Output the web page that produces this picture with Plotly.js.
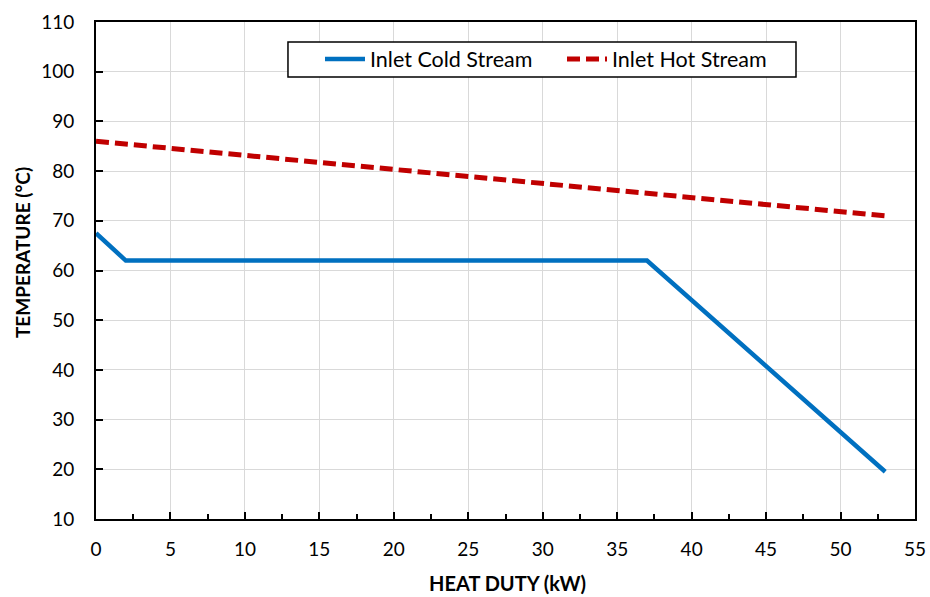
<!DOCTYPE html>
<html>
<head>
<meta charset="utf-8">
<script src="https://cdn.plot.ly/plotly-3.0.1.min.js"></script>
<style>html,body{margin:0;padding:0;background:#fff}#chart{width:930px;height:597px}</style>
</head>
<body>
<div id="chart"></div>
<script>
// Heat duty (kW) vs temperature (°C) profiles
const coldDuty = [0, 2, 37, 53];
const coldTemp = [67.5, 62, 62, 19.5];
const hotDuty = [0, 53];
const hotTemp = [86, 71];
const xTicks = [0, 5, 10, 15, 20, 25, 30, 35, 40, 45, 50, 55];
const yTicks = [10, 20, 30, 40, 50, 60, 70, 80, 90, 100, 110];
const xTitle = 'HEAT DUTY (kW)';
const yTitle = 'TEMPERATURE (°C)';

const font = "Lato, 'Open Sans', sans-serif";

const traces = [
  {x: coldDuty, y: coldTemp, mode: 'lines', name: 'Inlet Cold Stream',
   line: {color: '#0070C0', width: 4.5}},
  {x: hotDuty, y: hotTemp, mode: 'lines', name: 'Inlet Hot Stream',
   line: {color: '#C00000', width: 5, dash: '13px,6px'}}
];

const axisCommon = {
  showline: true, linecolor: '#000', linewidth: 2, mirror: true,
  ticks: 'inside', ticklen: 7, tickwidth: 2, tickcolor: '#000',
  showgrid: true, gridcolor: '#d9d9d9', gridwidth: 1,
  zeroline: false, tickfont: {family: font, size: 19, color: '#000'}
};

const layout = {
  width: 930, height: 597,
  margin: {l: 96, r: 15, t: 22, b: 78},
  paper_bgcolor: '#fff', plot_bgcolor: '#fff',
  showlegend: true,
  legend: {
    orientation: 'h', x: 0.2735, y: 0.9256, xanchor: 'left', yanchor: 'middle',
    bgcolor: 'rgba(0,0,0,0)', borderwidth: 0,
    font: {family: font, size: 21.5, color: '#000'},
    entrywidth: 187, itemwidth: 40
  },
  // legend frame
  shapes: [{
    type: 'rect', xref: 'paper', yref: 'paper',
    x0: 0.2344, x1: 0.8547, y0: 0.8893, y1: 0.9598,
    fillcolor: '#fff', line: {color: '#000', width: 1.5}, layer: 'above'
  }],
  annotations: [
    {text: '<b>' + yTitle + '</b>', xref: 'paper', yref: 'paper', x: -0.0904, y: 0.537,
     textangle: -90, showarrow: false, xanchor: 'center', yanchor: 'middle',
     font: {family: font, size: 19, color: '#000'}},
    {text: '<b>' + xTitle + '</b>', xref: 'paper', yref: 'paper', x: 0.502, y: -0.1288,
     showarrow: false, xanchor: 'center', yanchor: 'middle',
     font: {family: font, size: 20, color: '#000'}}
  ],
  xaxis: Object.assign({}, axisCommon, {
    range: [0, 55], tickvals: xTicks, ticklabelstandoff: 12,
    minor: {dtick: 2.5, ticks: 'inside', ticklen: 5, tickwidth: 2, tickcolor: '#000', showgrid: false}
  }),
  yaxis: Object.assign({}, axisCommon, {
    range: [10, 110], tickvals: yTicks, ticklabelstandoff: 16
  })
};

Plotly.newPlot('chart', traces, layout, {displayModeBar: false, staticPlot: true});
</script>
</body>
</html>
